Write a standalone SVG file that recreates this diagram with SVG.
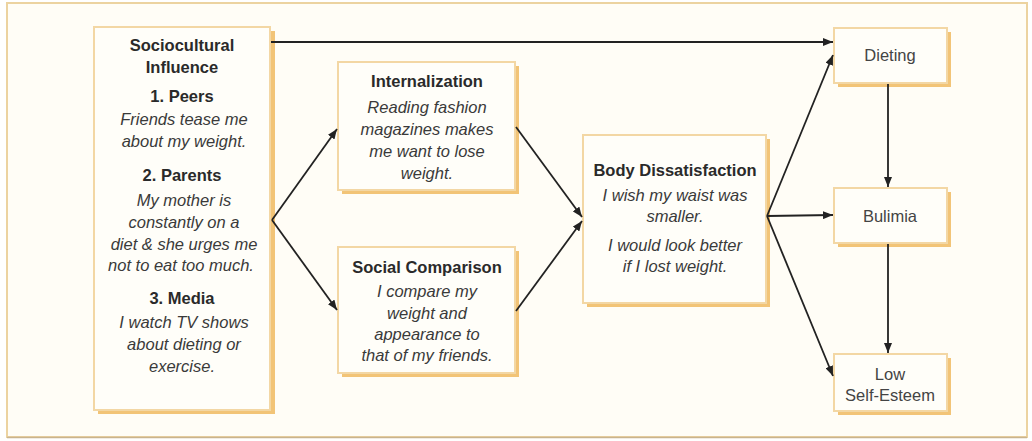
<svg xmlns="http://www.w3.org/2000/svg" width="1032" height="441" viewBox="0 0 1032 441">
  <defs>
    <marker id="arrow" viewBox="0 0 10 8" refX="10" refY="4" markerWidth="10" markerHeight="8" markerUnits="userSpaceOnUse" orient="auto">
      <path d="M0,0 L10,4 L0,8 Z" fill="#222"/>
    </marker>
  </defs>
  <style>
    .frame { fill: #fffdf6; stroke: #ecd3a0; stroke-width: 2; }
    .shadow { fill: #f2c477; }
    .box { fill: #fffef9; stroke: #f3d7a4; stroke-width: 2; }
    .title { font-family: "Liberation Sans", Arial, sans-serif; font-weight: bold; font-size: 16.5px; fill: #2a2a2a; text-anchor: middle; }
    .body { font-family: "Liberation Sans", Arial, sans-serif; font-style: italic; font-size: 16.5px; fill: #3a3a3a; text-anchor: middle; }
    .plain { font-family: "Liberation Sans", Arial, sans-serif; font-size: 16.5px; fill: #444; text-anchor: middle; }
    .edge { fill: none; stroke: #222; stroke-width: 1.8; marker-end: url(#arrow); }
  </style>

  <rect width="1032" height="441" fill="#ffffff"/>
  <rect class="frame" x="7" y="3" width="1020" height="434"/>
  <line x1="7" y1="437.5" x2="1027" y2="437.5" stroke="#c9b48e" stroke-width="1.5"/>

  <g id="sociocultural">
    <rect class="shadow" x="98" y="31" width="177" height="383"/>
    <rect class="box" x="94" y="27" width="176" height="383"/>
    <text class="title" x="182" y="51">Sociocultural</text>
    <text class="title" x="182" y="73">Influence</text>
    <text class="title" x="182" y="102">1. Peers</text>
    <text class="body" x="184" y="125">Friends tease me</text>
    <text class="body" x="184" y="147">about my weight.</text>
    <text class="title" x="182" y="181">2. Parents</text>
    <text class="body" x="184" y="206">My mother is</text>
    <text class="body" x="184" y="228">constantly on a</text>
    <text class="body" x="184" y="250">diet &amp; she urges me</text>
    <text class="body" x="181" y="271">not to eat too much.</text>
    <text class="title" x="182" y="304">3. Media</text>
    <text class="body" x="184" y="328">I watch TV shows</text>
    <text class="body" x="184" y="350">about dieting or</text>
    <text class="body" x="182" y="372">exercise.</text>
  </g>

  <g id="internalization">
    <rect class="shadow" x="342" y="66" width="177" height="128"/>
    <rect class="box" x="338" y="62" width="177" height="128"/>
    <text class="title" x="427" y="87">Internalization</text>
    <text class="body" x="427" y="113">Reading fashion</text>
    <text class="body" x="427" y="135">magazines makes</text>
    <text class="body" x="427" y="157">me want to lose</text>
    <text class="body" x="427" y="179">weight.</text>
  </g>

  <g id="social-comparison">
    <rect class="shadow" x="342" y="251" width="177" height="126"/>
    <rect class="box" x="338" y="247" width="177" height="126"/>
    <text class="title" x="427" y="273">Social Comparison</text>
    <text class="body" x="427" y="297">I compare my</text>
    <text class="body" x="427" y="319">weight and</text>
    <text class="body" x="427" y="340">appearance to</text>
    <text class="body" x="427" y="361">that of my friends.</text>
  </g>

  <g id="body-dissatisfaction">
    <rect class="shadow" x="587" y="139" width="183" height="168"/>
    <rect class="box" x="583" y="135" width="183" height="168"/>
    <text class="title" x="675" y="176">Body Dissatisfaction</text>
    <text class="body" x="675" y="201">I wish my waist was</text>
    <text class="body" x="675" y="222">smaller.</text>
    <text class="body" x="675" y="251">I would look better</text>
    <text class="body" x="675" y="272">if I lost weight.</text>
  </g>

  <g id="dieting">
    <rect class="shadow" x="838" y="32" width="113" height="55"/>
    <rect class="box" x="834" y="28" width="113" height="55"/>
    <text class="plain" x="890" y="61">Dieting</text>
  </g>

  <g id="bulimia">
    <rect class="shadow" x="838" y="192" width="113" height="55"/>
    <rect class="box" x="834" y="188" width="113" height="55"/>
    <text class="plain" x="890" y="222">Bulimia</text>
  </g>

  <g id="low-self-esteem">
    <rect class="shadow" x="838" y="358" width="113" height="57"/>
    <rect class="box" x="834" y="354" width="113" height="57"/>
    <text class="plain" x="890" y="380">Low</text>
    <text class="plain" x="890" y="401">Self-Esteem</text>
  </g>

  <g id="connectors">
    <path class="edge" d="M271,42 L833,42"/>
    <path class="edge" d="M272,220 L337,129"/>
    <path class="edge" d="M272,220 L337,310"/>
    <path class="edge" d="M516,127 L582,217"/>
    <path class="edge" d="M516,311 L582,221"/>
    <path class="edge" d="M767,216 L833,55"/>
    <path class="edge" d="M767,216 L833,215"/>
    <path class="edge" d="M767,216 L833,376"/>
    <path class="edge" d="M888,84 L888,187"/>
    <path class="edge" d="M888,244 L888,353"/>
  </g>
</svg>
